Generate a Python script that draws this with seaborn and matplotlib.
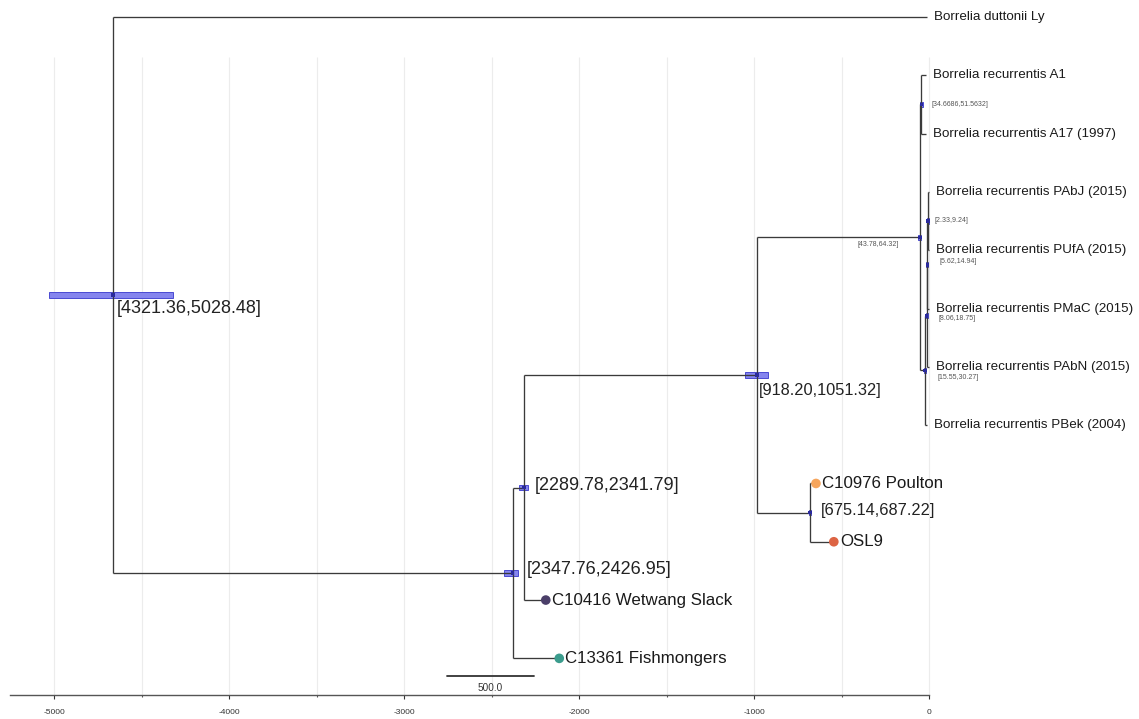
import matplotlib
matplotlib.use("Agg")
import matplotlib.pyplot as plt
import seaborn as sns
import pandas as pd
import numpy as np

# ---------------- data ----------------
leaf_names = [
    "Borrelia duttonii Ly",
    "Borrelia recurrentis A1",
    "Borrelia recurrentis A17 (1997)",
    "Borrelia recurrentis PAbJ (2015)",
    "Borrelia recurrentis PUfA (2015)",
    "Borrelia recurrentis PMaC (2015)",
    "Borrelia recurrentis PAbN (2015)",
    "Borrelia recurrentis PBek (2004)",
    "C10976 Poulton",
    "OSL9",
    "C10416 Wetwang Slack",
    "C13361 Fishmongers",
]
leaf_ages = [-12, -16, -16, 0, 0, 0, 0, -11, -646, -544, -2190, -2113]
ancient_samples = ["C10976 Poulton", "OSL9", "C10416 Wetwang Slack", "C13361 Fishmongers"]
ancient_colors = ["#f6a55c", "#dd6444", "#4b3f69", "#3b9c8d"]

node_names = ["root", "A", "B", "C", "E", "D", "F", "G", "H", "I", "J"]
node_ages = [-4663, -2380, -2315, -983, -680, -52, -43, -22, -13, -10, -6]
node_hpd_low = [-5028.48, -2426.95, -2341.79, -1051.32, -687.22, -64.32, -51.5632, -30.27, -18.75, -14.94, -9.24]
node_hpd_high = [-4321.36, -2347.76, -2289.78, -918.20, -675.14, -43.78, -34.6686, -15.55, -8.06, -5.62, -2.33]
node_children = [
    ["Borrelia duttonii Ly", "A"],
    ["B", "C13361 Fishmongers"],
    ["C", "C10416 Wetwang Slack"],
    ["D", "E"],
    ["C10976 Poulton", "OSL9"],
    ["F", "G"],
    ["Borrelia recurrentis A1", "Borrelia recurrentis A17 (1997)"],
    ["H", "Borrelia recurrentis PBek (2004)"],
    ["I", "Borrelia recurrentis PAbN (2015)"],
    ["J", "Borrelia recurrentis PMaC (2015)"],
    ["Borrelia recurrentis PAbJ (2015)", "Borrelia recurrentis PUfA (2015)"],
]
node_labels = ["[4321.36,5028.48]", "[2347.76,2426.95]", "[2289.78,2341.79]",
               "[918.20,1051.32]", "[675.14,687.22]", "[43.78,64.32]",
               "[34.6686,51.5632]", "[15.55,30.27]", "[8.06,18.75]",
               "[5.62,14.94]", "[2.33,9.24]"]

scale_bar_length = 500
x_ticks = [-5000, -4000, -3000, -2000, -1000, 0]

# ---------------- style ----------------
sns.set_style("white")
plt.rcParams['font.family'] = ['Liberation Sans', 'DejaVu Sans']
plt.rcParams['axes.unicode_minus'] = False

PX = 0.72  # points per pixel at dpi 100
# label offsets (pixels): dx, dy(down positive), ha, fontsize, color
label_style = {
    "root": (4, 14, "left", 13, "#222222"),
    "A": (14, -3, "left", 13, "#222222"),
    "B": (11, -2, "left", 13, "#222222"),
    "C": (2, 15, "left", 11.8, "#222222"),
    "E": (11, -2, "left", 11.8, "#222222"),
    "D": (-21, 7, "right", 5.0, "#555555"),
    "F": (10, 0, "left", 5.0, "#555555"),
    "G": (12, 7, "left", 5.0, "#555555"),
    "H": (12, 3, "left", 5.0, "#555555"),
    "I": (12, -3, "left", 5.0, "#555555"),
    "J": (7, -1, "left", 5.0, "#555555"),
}

fig = plt.figure(figsize=(11.39, 7.19), dpi=100)
ax = fig.add_axes([0, 0, 1, 1])

# ---------------- layout: y from leaf order ----------------
ypos = {n: i for i, n in enumerate(leaf_names)}
xpos = dict(zip(leaf_names, leaf_ages))
xpos.update(dict(zip(node_names, node_ages)))
children = dict(zip(node_names, node_children))


def get_y(n):
    if n not in ypos:
        ch = children[n]
        ypos[n] = (get_y(ch[0]) + get_y(ch[-1])) / 2.0
    return ypos[n]


for n in node_names:
    get_y(n)

line_kw = dict(color="#3a3a3a", lw=0.95, zorder=3)
# tree branches
for n in node_names:
    ch = children[n]
    ys = [ypos[c] for c in ch]
    ax.vlines(xpos[n], min(ys), max(ys), **line_kw)
    for c in ch:
        ax.hlines(ypos[c], xpos[n], xpos[c], **line_kw)

# HPD bars
ny = [ypos[n] for n in node_names]
widths = np.array(node_hpd_high) - np.array(node_hpd_low)
ax.barh(ny, widths, left=node_hpd_low, height=0.09, color="#8585ee",
        edgecolor="#4a4ad2", linewidth=0.7, zorder=2)

# node markers
node_df = pd.DataFrame({"x": node_ages, "y": ny})
sns.scatterplot(data=node_df, x="x", y="y", ax=ax, marker="s", s=6,
                color="#2a2a9c", edgecolor="none", zorder=4, legend=False)

# tip dots
tip_df = pd.DataFrame({"name": ancient_samples,
                       "x": [xpos[n] for n in ancient_samples],
                       "y": [ypos[n] for n in ancient_samples]})
sns.scatterplot(data=tip_df, x="x", y="y", hue="name",
                palette=dict(zip(ancient_samples, ancient_colors)),
                s=48, edgecolor="none", ax=ax, zorder=5, legend=False)

# tip labels
for n in leaf_names:
    if n in ancient_samples:
        ax.annotate(n, (xpos[n], ypos[n]), xytext=(6 * PX, 0), textcoords="offset points",
                    ha="left", va="center", fontsize=12.2, color="#1a1a1a")
    else:
        ax.annotate(n, (xpos[n], ypos[n]), xytext=(7 * PX, 0), textcoords="offset points",
                    ha="left", va="center", fontsize=9.6, color="#1a1a1a")

# node labels
for n, lab in zip(node_names, node_labels):
    dx, dy, ha, fs, col = label_style[n]
    ax.annotate(lab, (xpos[n], ypos[n]), xytext=(dx * PX, -dy * PX), textcoords="offset points",
                ha=ha, va="center", fontsize=fs, color=col)

# ---------------- axes ----------------
ax.set_xlim(-5309, 1200)
ax.set_ylim(12.04, -0.292)
axis_y = 11.63
grid_top = 0.69

grid_x = np.arange(x_ticks[0], x_ticks[-1] + 1, 500)
ax.vlines(grid_x, grid_top, axis_y, color="#ececec", lw=0.8, zorder=0)

# scale bar
sb_left = -2755
ax.plot([sb_left, sb_left + scale_bar_length], [11.30, 11.30], color="#333333", lw=1.3, zorder=3)
ax.text(sb_left + scale_bar_length / 2, 11.50, f"{scale_bar_length:.1f}", ha="center", va="center",
        fontsize=7.2, color="#333333")

for s in ["top", "right", "left"]:
    ax.spines[s].set_visible(False)
ax.spines["bottom"].set_position(("data", axis_y))
ax.spines["bottom"].set_bounds(-5250, 0)
ax.spines["bottom"].set_color("#555555")
ax.spines["bottom"].set_linewidth(1.0)
ax.set_xticks(x_ticks)
ax.set_xticklabels([str(t) for t in x_ticks])
ax.set_xticks(grid_x, minor=True)
ax.tick_params(axis="x", which="major", direction="out", length=3, width=0.8,
               colors="#333333", labelsize=6, pad=7, bottom=True)
ax.tick_params(axis="x", which="minor", direction="out", length=1.2, width=0.8,
               colors="#555555", bottom=True)
ax.set_yticks([])
ax.set_xlabel("")
ax.set_ylabel("")

fig.savefig("out.png", dpi=100)
